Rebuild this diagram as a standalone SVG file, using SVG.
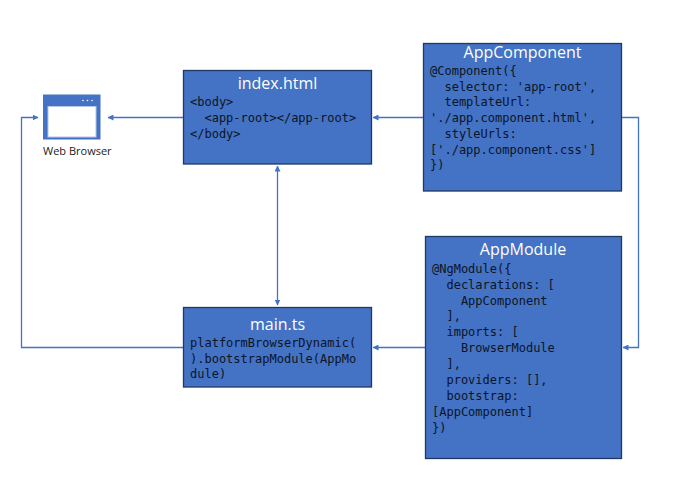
<svg xmlns="http://www.w3.org/2000/svg" width="680" height="491" viewBox="0 0 680 491">
<defs>
<style>
.box{fill:#4472c4;stroke:#203864;stroke-width:1.3}
.title{font-family:"Open Sans","Noto Sans",sans-serif;font-size:16px;fill:#fff;text-anchor:middle}
.code{font-family:"DejaVu Sans Mono","Liberation Mono",monospace;font-size:12px;fill:#0b1526;white-space:pre}
.conn{fill:none;stroke:#4472c4;stroke-width:1.3}
</style>
<marker id="arrow" viewBox="0 0 6 6" refX="5.5" refY="3" markerWidth="6" markerHeight="6" markerUnits="userSpaceOnUse" orient="auto-start-reverse"><path d="M0 0L6 3L0 6Z" fill="#4472c4"/></marker>
</defs>
<rect width="680" height="491" fill="#fff"/>
<g id="connectors">
<path class="conn" d="M183 117.500H108" marker-end="url(#arrow)"/>
<path class="conn" d="M423 117.500H373" marker-end="url(#arrow)"/>
<path class="conn" d="M622 117.500H638.500V347.500H623" marker-end="url(#arrow)"/>
<path class="conn" d="M425 347.500H373" marker-end="url(#arrow)"/>
<path class="conn" d="M277.500 166V305" marker-start="url(#arrow)" marker-end="url(#arrow)"/>
<path class="conn" d="M183 347.500H21.500V117.500H38" marker-end="url(#arrow)"/>
</g>
<g id="web-browser">
<rect x="43" y="94.500" width="57.500" height="45" fill="#4472c4"/>
<rect x="48" y="106.500" width="48" height="30.500" fill="#fff" stroke="#b4c7e7" stroke-width="1"/>
<circle cx="83" cy="100.500" r="0.800" fill="#fff"/><circle cx="87.500" cy="100.500" r="0.800" fill="#fff"/><circle cx="92" cy="100.500" r="0.800" fill="#fff"/>
<text x="43" y="155" font-family="'Open Sans','Noto Sans',sans-serif" font-size="11px" fill="#1a1a1a">Web Browser</text>
</g>
<g id="index-html">
<rect class="box" x="183.500" y="70.500" width="188" height="93.500"/>
<text class="title" x="277.500" y="89">index.html</text>
<text class="code" x="190" y="106">&lt;body&gt;</text>
<text class="code" x="190" y="122">  &lt;app-root&gt;&lt;/app-root&gt;</text>
<text class="code" x="190" y="138">&lt;/body&gt;</text>
</g>
<g id="app-component">
<rect class="box" x="423.500" y="43.500" width="198" height="147.500"/>
<text class="title" x="522.500" y="58">AppComponent</text>
<text class="code" x="430" y="74.500">@Component({</text>
<text class="code" x="430" y="90.500">  selector: 'app-root',</text>
<text class="code" x="430" y="106">  templateUrl:</text>
<text class="code" x="430" y="121.500">'./app.component.html',</text>
<text class="code" x="430" y="137.500">  styleUrls:</text>
<text class="code" x="430" y="153.500">['./app.component.css']</text>
<text class="code" x="430" y="169">})</text>
</g>
<g id="app-module">
<rect class="box" x="425.500" y="236.500" width="196" height="222"/>
<text class="title" x="523" y="255">AppModule</text>
<text class="code" x="432" y="272.500">@NgModule({</text>
<text class="code" x="432" y="288.500">  declarations: [</text>
<text class="code" x="432" y="304.500">    AppComponent</text>
<text class="code" x="432" y="320">  ],</text>
<text class="code" x="432" y="336">  imports: [</text>
<text class="code" x="432" y="352">    BrowserModule</text>
<text class="code" x="432" y="368">  ],</text>
<text class="code" x="432" y="383.500">  providers: [],</text>
<text class="code" x="432" y="399.500">  bootstrap:</text>
<text class="code" x="432" y="415.500">[AppComponent]</text>
<text class="code" x="432" y="431.500">})</text>
</g>
<g id="main-ts">
<rect class="box" x="183.500" y="307.500" width="188" height="79.500"/>
<text class="title" x="277.500" y="330">main.ts</text>
<text class="code" x="190" y="346.500">platformBrowserDynamic(</text>
<text class="code" x="190" y="362.500">).bootstrapModule(AppMo</text>
<text class="code" x="190" y="378">dule)</text>
</g>
</svg>
